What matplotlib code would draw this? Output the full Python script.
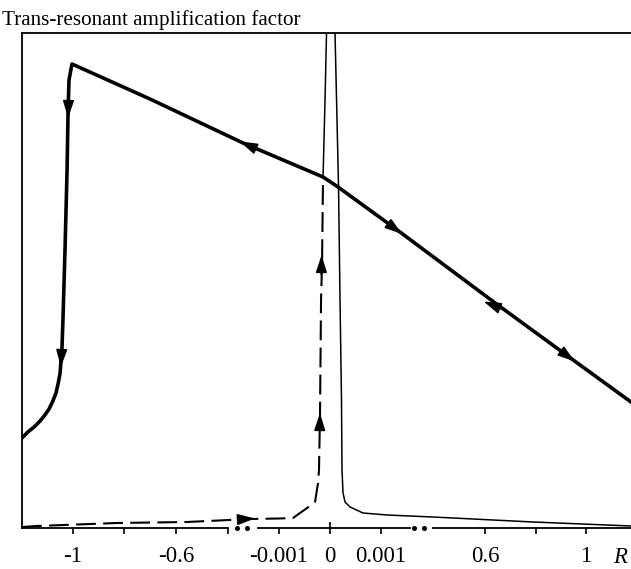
import matplotlib
matplotlib.use("Agg")
import matplotlib.pyplot as plt
import numpy as np

# R axis is broken: piecewise linear scale (knots in R -> screen units)
knot_R = [-5, -1, -0.6, -0.001, 0, 0.001, 0.6, 1, 5]
knot_u = [-957, 73, 176, 279, 330, 381, 485, 586, 1596]


def fwd(r):
    return np.interp(r, knot_R, knot_u)


def inv(u):
    return np.interp(u, knot_u, knot_R)


# thick curve (hysteresis branch)
thick_R = [-1.198, -1.175, -1.151, -1.128, -1.109, -1.093, -1.078, -1.066,
           -1.058, -1.050, -1.047, -1.043, -1.039, -1.031, -1.023,
           -1.019, -1.0155, -1.004, -0.701, -0.210, -0.000137, 0.000157,
           0.110, 0.640, 0.949, 1.178]
thick_y = [9.0, 9.6, 10.1, 10.7, 11.3, 11.9, 12.7, 13.5,
           14.4, 15.5, 16.6, 17.8, 20.8, 27.8, 35.8,
           41.8, 44.8, 46.4, 42.9, 38.5, 35.1, 34.1,
           29.6, 22.5, 16.8, 12.6]

# dashed curve (slow sweep up to resonance)
dash_R = [-1.198, -1.140, -0.829, -0.536, -0.170, -0.001, -0.000725,
          -0.000451, -0.000294, -0.000235, -0.000216, -0.000196,
          -0.000176, -0.000157, -0.000137]
dash_y = [0.1, 0.2, 0.5, 0.6, 0.9, 0.95, 1.0,
          2.0, 2.6, 4.5, 5.8, 11.5,
          22.8, 26.3, 35.0]

# thin resonance peak
peak_R = [-0.000137, -0.000098, -0.0000686, -0.0000392, 0.0000098,
          0.0000588, 0.000098, 0.000137, 0.000167, 0.000196, 0.000225,
          0.000235, 0.000255, 0.000294, 0.000392, 0.000647, 0.0346,
          0.300, 0.790, 1.178]
peak_y = [35.0, 42.8, 49.5, 56.8, 58.8,
          56.8, 49.5, 40.8, 34.1, 22.8, 12.8,
          5.8, 3.5, 2.6, 2.1, 1.5, 1.3,
          1.1, 0.6, 0.2]

# arrows: (tail R, tail y, head R, head y)
arrows = [
    (-1.0175, 42.8, -1.019, 41.0),
    (-1.043, 18.3, -1.047, 16.1),
    (-0.158, 38.1, -0.228, 38.65),
    (0.0528, 30.3, 0.122, 29.4),
    (0.679, 21.77, 0.592, 22.65),
    (0.909, 17.53, 0.956, 16.65),
    (-0.239, 0.85, -0.141, 0.95),
    (-0.0002, 10.3, -0.000196, 11.5),
    (-0.00017, 25.3, -0.000165, 27.3),
]

tick_R = [-1, -0.6, -0.001, 0, 0.001, 0.6, 1]
tick_labels = ["-1", "-0.6", "-0.001", "0", "0.001", "0.6", "1"]
minor_R = [-0.8, -0.3, 0.8]

serif = "Liberation Serif"

fig = plt.figure(figsize=(6.31, 5.69), dpi=100)
ax = fig.add_axes([22 / 631, 41 / 569, 609 / 631, 495 / 569])
ax.set_xscale("function", functions=(fwd, inv))
ax.set_xlim(-1.198, 1.178)
ax.set_ylim(0, 49.5)

ax.plot(thick_R, thick_y, color="black", lw=2.6, solid_joinstyle="round")
ax.plot(dash_R, dash_y, color="black", lw=1.5, dashes=(9.5, 3.5))
ax.plot(peak_R, peak_y, color="black", lw=1.1)

for r0, y0, r1, y1 in arrows:
    ax.annotate("", xy=(r1, y1), xytext=(r0, y0),
                arrowprops=dict(arrowstyle="-|>,head_length=0.75,head_width=0.24",
                                color="black", lw=1.2, shrinkA=0, shrinkB=0,
                                mutation_scale=14))

for s in ["right", "bottom"]:
    ax.spines[s].set_visible(False)
ax.spines["left"].set_linewidth(1.3)
ax.spines["top"].set_linewidth(1.3)

# broken bottom axis with dots
W = 609.0
def fx(px):
    return (px - 22) / W
for a, b in [(22, 228), (258, 410), (433, 640)]:
    ax.plot([fx(a), fx(b)], [0, 0], color="black", lw=1.3,
            transform=ax.transAxes, clip_on=False)
ax.plot([fx(p) for p in (237, 247, 414, 424)], [0] * 4, ls="none",
        marker="o", ms=2.6, color="black", transform=ax.transAxes,
        clip_on=False)

ax.set_yticks([])
ax.set_xticks(tick_R)
ax.set_xticklabels(tick_labels, fontfamily=serif, fontsize=16.5)
ax.set_xticks(minor_R, minor=True)
ax.xaxis.set_minor_formatter(plt.NullFormatter())
ax.tick_params(axis="x", which="both", direction="out", length=4, width=1.2,
               pad=9)
t0 = ax.xaxis.get_major_ticks()[3]
t0.tick1line.set_marker("|")
t0.tick1line.set_markersize(8)

ax.text(1.135, -35 / 495, "R", transform=ax.get_xaxis_transform(),
        fontfamily=serif, fontstyle="italic", fontsize=16.5,
        ha="center", va="baseline")

fig.text(2 / 631, 1 - 25 / 569, "Trans-resonant amplification factor",
         fontfamily=serif, fontsize=15.2, ha="left", va="baseline")

fig.savefig("out.png", dpi=100)
